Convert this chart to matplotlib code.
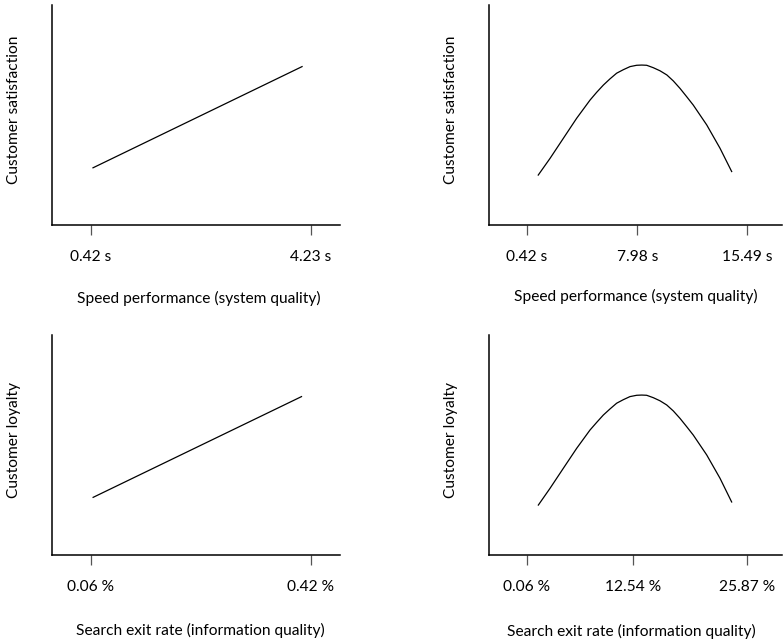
import matplotlib
matplotlib.use("Agg")
import matplotlib.pyplot as plt

plt.rcParams["font.family"] = ["Lato", "DejaVu Sans"]
plt.rcParams["font.size"] = 11.2

# top-left: speed performance -> satisfaction (linear)
speed_lin_x = [0.46, 4.08]
speed_lin_y = [0.260, 0.720]
speed_lin_ticks = [0.42, 4.23]
speed_lin_labels = ["0.42 s", "4.23 s"]

# top-right: speed performance -> satisfaction (inverted U)
speed_curve_x = [1.19, 2.00, 2.91, 3.82, 4.74, 5.19, 5.65, 6.10, 6.56, 7.02, 7.48, 7.93,
                 8.28, 8.62, 9.07, 9.53, 10.00, 10.44, 10.90, 11.36, 11.81, 12.73, 13.64, 14.44]
speed_curve_y = [0.227, 0.303, 0.394, 0.485, 0.568, 0.603, 0.636, 0.664, 0.690, 0.706, 0.720, 0.726,
                 0.727, 0.726, 0.715, 0.701, 0.682, 0.655, 0.621, 0.583, 0.545, 0.455, 0.349, 0.243]
speed_curve_ticks = [0.42, 7.98, 15.49]
speed_curve_labels = ["0.42 s", "7.98 s", "15.49 s"]

# bottom-left: search exit rate -> loyalty (linear)
exit_lin_x = [0.064, 0.405]
exit_lin_y = [0.262, 0.720]
exit_lin_ticks = [0.06, 0.42]
exit_lin_labels = ["0.06 %", "0.42 %"]

# bottom-right: search exit rate -> loyalty (inverted U)
exit_curve_x = [1.39, 2.76, 4.32, 5.89, 7.45, 8.24, 9.01, 9.80, 10.58, 11.36, 12.14, 12.93,
                13.52, 14.10, 14.88, 15.66, 16.45, 17.22, 18.01, 18.80, 19.57, 21.14, 22.70, 24.07]
exit_curve_y = [0.227, 0.303, 0.394, 0.485, 0.568, 0.603, 0.636, 0.664, 0.690, 0.706, 0.720, 0.726,
                0.727, 0.726, 0.715, 0.701, 0.682, 0.655, 0.621, 0.583, 0.545, 0.455, 0.349, 0.241]
exit_curve_ticks = [0.06, 12.54, 25.87]
exit_curve_labels = ["0.06 %", "12.54 %", "25.87 %"]

W, H = 783, 641
fig = plt.figure(figsize=(W / 100, H / 100), dpi=100)


def make_axes(left, right, top, bottom):
    return fig.add_axes([left / W, 1 - bottom / H, (right - left) / W, (bottom - top) / H])


panels = [
    # box (px), xlim, data, ticks, labels, xlabel, ylabel, xlabel coords, ylabel x (px)
    ((52, 340, 5, 225), (-0.250, 4.737), speed_lin_x, speed_lin_y,
     speed_lin_ticks, speed_lin_labels,
     "Speed performance (system quality)", "Customer satisfaction", (0.51, -0.332), 14),
    ((489, 782, 5, 225), (-2.183, 17.887), speed_curve_x, speed_curve_y,
     speed_curve_ticks, speed_curve_labels,
     "Speed performance (system quality)", "Customer satisfaction", (0.50, -0.323), 451),
    ((52, 340, 335, 555), (-0.0033, 0.468), exit_lin_x, exit_lin_y,
     exit_lin_ticks, exit_lin_labels,
     "Search exit rate (information quality)", "Customer loyalty", (0.515, -0.341), 14),
    ((489, 782, 335, 555), (-4.398, 29.976), exit_curve_x, exit_curve_y,
     exit_curve_ticks, exit_curve_labels,
     "Search exit rate (information quality)", "Customer loyalty", (0.487, -0.349), 451),
]

for box, xlim, xs, ys, ticks, labels, xlabel, ylabel, xl, ylx in panels:
    ax = make_axes(*box)
    ax.plot(xs, ys, color="black", lw=0.9)
    ax.set_xlim(*xlim)
    ax.set_ylim(0, 1)
    for side in ["top", "right"]:
        ax.spines[side].set_visible(False)
    for side in ["left", "bottom"]:
        ax.spines[side].set_linewidth(1.1)
    ax.set_xticks(ticks)
    ax.set_xticklabels(labels)
    ax.set_yticks([])
    ax.tick_params(axis="x", length=7, width=0.9, color="#555555", pad=11)
    ax.set_xlabel(xlabel, va="center")
    ax.xaxis.set_label_coords(*xl)
    ax.set_ylabel(ylabel, va="center")
    ax.yaxis.set_label_coords((ylx - box[0]) / (box[1] - box[0]), 0.523)

fig.savefig("out.png", dpi=100)
